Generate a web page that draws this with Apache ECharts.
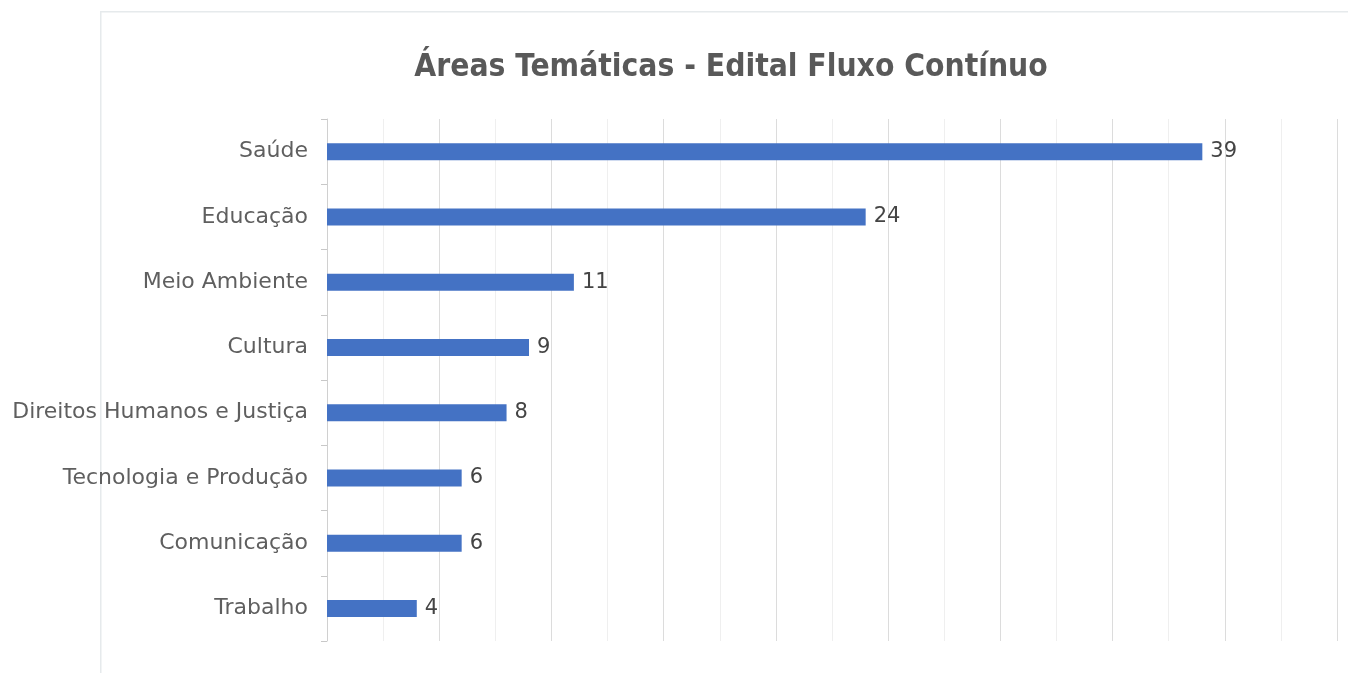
<!DOCTYPE html>
<html>
<head>
<meta charset="utf-8">
<script src="https://cdn.jsdelivr.net/npm/echarts@6/dist/echarts.min.js"></script>
<style>
html,body{margin:0;padding:0;background:#fff;}
#chart{width:1348px;height:673px;}
</style>
</head>
<body>
<div id="chart"></div>
<script>
const titleText = 'Áreas Temáticas - Edital Fluxo Contínuo';
const categories = ['Saúde','Educação','Meio Ambiente','Cultura','Direitos Humanos e Justiça','Tecnologia e Produção','Comunicação','Trabalho'];
const values = [39,24,11,9,8,6,6,4];
const xMin = 0, xMax = 45, xInterval = 5;

const chart = echarts.init(document.getElementById('chart'));
chart.setOption({
  animation:false,
  backgroundColor:'#ffffff',
  graphic:[{
    type:'rect', left:100, top:11, z:-10,
    shape:{width:1300, height:700},
    style:{fill:'#ffffff', stroke:'#e6eaec', lineWidth:1.5}
  }],
  title:{
    text:titleText, top:47, left:726, textAlign:'center',
    textStyle:{fontFamily:'Liberation Sans Narrow, DejaVu Sans Condensed, sans-serif', fontWeight:'bold', fontSize:31.5, color:'#595959'}
  },
  grid:{left:327, right:11, top:119, bottom:32, containLabel:false},
  xAxis:{
    type:'value', min:xMin, max:xMax, interval:xInterval,
    axisLabel:{show:false}, axisLine:{show:false}, axisTick:{show:false},
    splitLine:{show:true, lineStyle:{color:'#dcdcdc', width:1}},
    minorTick:{show:false, splitNumber:2},
    minorSplitLine:{show:true, lineStyle:{color:'#efefef', width:1}}
  },
  yAxis:{
    type:'category', data:categories, inverse:true,
    axisLine:{show:true, lineStyle:{color:'#d0d0d0', width:1}},
    axisTick:{show:true, length:6, lineStyle:{color:'#c8c8c8'}},
    axisLabel:{margin:19, fontSize:22, color:'#5f5f5f', fontFamily:'DejaVu Sans, sans-serif'},
    splitLine:{show:false}
  },
  series:[{
    type:'bar', data:values, barWidth:17,
    itemStyle:{color:'#4472c4'},
    label:{show:true, position:'right', distance:8, fontSize:21, color:'#444444', fontFamily:'DejaVu Sans, sans-serif'}
  }]
});
</script>
</body>
</html>
